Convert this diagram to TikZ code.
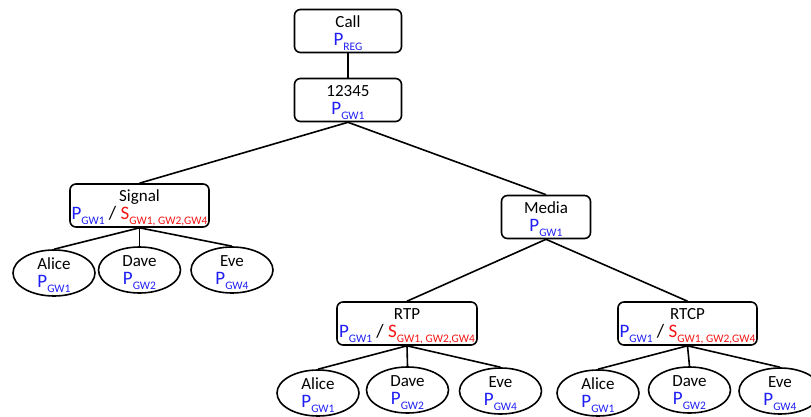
\documentclass[tikz,border=0pt]{standalone}
\usepackage{fontspec}
\setmainfont{Carlito}
\usetikzlibrary{shapes.geometric}
\definecolor{pblue}{RGB}{30,30,245}
\definecolor{sred}{RGB}{245,20,20}
\newcommand\mysub[1]{\smash{\raisebox{-0.55ex}{\fontsize{11.5}{12}\selectfont #1}}}
\newcommand\pgw[1]{{\fontsize{19}{18}\selectfont\textcolor{pblue}{P\mysub{#1}}}}
\newcommand\sgw{{\fontsize{19}{18}\selectfont\textcolor{sred}{S\mysub{GW1, GW2,GW4}}}}
\newcommand\sep{{\fontsize{19}{18}\selectfont\ /\ }}
\begin{document}
\begin{tikzpicture}[x=1pt,y=-1pt,
  treebox/.style={draw,line width=1.6pt,rounded corners=6pt,align=center,
    inner sep=0pt,minimum height=43pt,font=\fontsize{17}{18}\selectfont},
  leaf/.style={draw,ellipse,line width=1.6pt,align=center,inner sep=0pt,
    minimum width=82pt,minimum height=46pt,font=\fontsize{17}{18}\selectfont},
  edge/.style={line width=1.6pt}]
\useasboundingbox (0,0) rectangle (811,417);

% inner nodes
\node[treebox,minimum width=107pt] (call) at (348,31) {Call\\\pgw{REG}};
\node[treebox,minimum width=107pt] (num) at (348,100) {12345\\\pgw{GW1}};
\node[treebox,minimum width=139pt] (signal) at (139.5,205.5) {Signal\\\pgw{GW1}\sep\sgw};
\node[treebox,minimum width=89pt] (media) at (546,217) {Media\\\pgw{GW1}};
\node[treebox,minimum width=140pt] (rtp) at (407,323.5) {RTP\\\pgw{GW1}\sep\sgw};
\node[treebox,minimum width=139pt] (rtcp) at (687.5,323.5) {RTCP\\\pgw{GW1}\sep\sgw};

% leaves under Signal
\node[leaf] (sa) at (54,273) {Alice\\\pgw{GW1}};
\node[leaf] (sd) at (139.5,270) {Dave\\\pgw{GW2}};
\node[leaf] (se) at (232,270) {Eve\\\pgw{GW4}};

% leaves under RTP
\node[leaf] (pa) at (318,393) {Alice\\\pgw{GW1}};
\node[leaf] (pd) at (407.5,390) {Dave\\\pgw{GW2}};
\node[leaf] (pe) at (500.5,391) {Eve\\\pgw{GW4}};

% leaves under RTCP
\node[leaf] (ca) at (598,393) {Alice\\\pgw{GW1}};
\node[leaf] (cd) at (689.5,390) {Dave\\\pgw{GW2}};
\node[leaf] (ce) at (780,391) {Eve\\\pgw{GW4}};

% connectors
\draw[edge] (call.south) -- (num.north);
\draw[edge] (num.south) -- (signal.north);
\draw[edge] (num.south) -- (media.north);
\draw[edge] (media.south) -- (rtp.north);
\draw[edge] (media.south) -- (rtcp.north);
\foreach \p/\a/\d/\e in {signal/sa/sd/se, rtp/pa/pd/pe, rtcp/ca/cd/ce}{
  \draw[edge] (\p.south) -- (\a.north);
  \draw[edge] (\p.south) -- (\d.north);
  \draw[edge] (\p.south) -- (\e.north);
}
\end{tikzpicture}
\end{document}
